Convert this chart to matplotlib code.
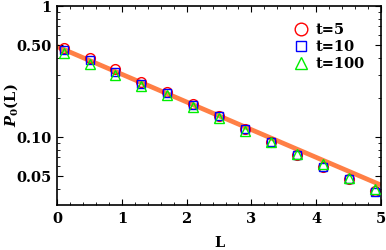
import numpy as np
import matplotlib
matplotlib.use("Agg")
import matplotlib.pyplot as plt
from matplotlib.ticker import FixedLocator, FixedFormatter, LogLocator, NullFormatter, MultipleLocator

# data
L = [0.1, 0.5, 0.9, 1.3, 1.7, 2.1, 2.5, 2.9, 3.3, 3.7, 4.1, 4.5, 4.9]
p_t5 = [0.475, 0.40, 0.33, 0.265, 0.22, 0.18, 0.146, 0.116, 0.092, 0.073, 0.059, 0.048, 0.039]
p_t10 = [0.46, 0.385, 0.315, 0.255, 0.215, 0.177, 0.144, 0.115, 0.091, 0.073, 0.059, 0.048, 0.038]
p_t100 = [0.44, 0.36, 0.30, 0.245, 0.21, 0.17, 0.14, 0.112, 0.091, 0.074, 0.062, 0.049, 0.040]

# fitted line (straight on log scale)
fit_L = [0.0, 5.0]
fit_P = [0.49, 0.043]

y_ticks = [0.05, 0.10, 0.50, 1.0]
y_tick_labels = ["0.05", "0.10", "0.50", "1"]

plt.rcParams['font.family'] = 'DejaVu Serif'
plt.rcParams['font.weight'] = 'bold'
plt.rcParams['mathtext.fontset'] = 'custom'
plt.rcParams['mathtext.rm'] = 'DejaVu Serif:bold'
plt.rcParams['mathtext.it'] = 'DejaVu Serif:italic:bold'

fs = 10.5

fig = plt.figure(figsize=(3.86, 2.5), dpi=100)
ax = fig.add_axes([0.148, 0.18, 0.839, 0.796])

ax.plot(fit_L, fit_P, color='#ff7f45', lw=3.4, solid_capstyle='butt', zorder=1)
ax.plot(L, p_t5, ls='none', marker='o', ms=7, mfc='none', mec='red', mew=1.0, label='t=5', zorder=2)
ax.plot(L, p_t10, ls='none', marker='s', ms=6, mfc='none', mec='blue', mew=1.0, label='t=10', zorder=3)
ax.plot(L, p_t100, ls='none', marker='^', ms=7, mfc='none', mec='#00ee00', mew=1.0, label='t=100', zorder=4)

ax.set_yscale('log')
ax.set_xlim(0, 5)
ax.set_ylim(0.0303, 1.0)

ax.yaxis.set_major_locator(FixedLocator(y_ticks))
ax.yaxis.set_major_formatter(FixedFormatter(y_tick_labels))
ax.yaxis.set_minor_locator(LogLocator(base=10, subs=np.arange(2, 10)))
ax.yaxis.set_minor_formatter(NullFormatter())
ax.xaxis.set_major_locator(MultipleLocator(1))
ax.xaxis.set_minor_locator(MultipleLocator(0.2))

ax.tick_params(which='both', direction='in', top=True, right=True, labelsize=fs)
ax.tick_params(axis='x', pad=5)
ax.tick_params(axis='y', pad=4)
ax.tick_params(which='major', length=4, width=0.8)
ax.tick_params(which='minor', length=2, width=0.6)
for s in ax.spines.values():
    s.set_linewidth(1.2)

ax.set_xlabel('L', fontsize=fs, fontweight='bold', labelpad=7)
ax.set_ylabel('$P_0$(L)', fontsize=fs, fontweight='bold')
ax.yaxis.set_label_coords(-0.115, 0.5)

leg = ax.legend(loc='upper right', frameon=False, fontsize=fs, markerscale=1.3,
                handlelength=1.4, handletextpad=0.3, labelspacing=0.2,
                bbox_to_anchor=(0.99, 0.98))
for t in leg.get_texts():
    t.set_fontweight('bold')

fig.savefig('out.png', dpi=100)
